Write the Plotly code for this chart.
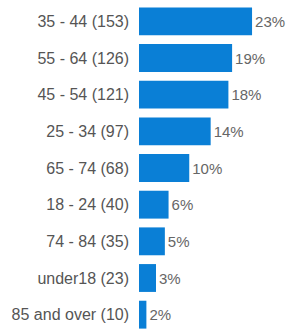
import plotly.graph_objects as go

categories = ["35 - 44 (153)", "55 - 64 (126)", "45 - 54 (121)", "25 - 34 (97)",
              "65 - 74 (68)", "18 - 24 (40)", "74 - 84 (35)", "under18 (23)",
              "85 and over (10)"]
counts = [153, 126, 121, 97, 68, 40, 35, 23, 10]
pct_labels = ["23%", "19%", "18%", "14%", "10%", "6%", "5%", "3%", "2%"]

fig = go.Figure(go.Bar(
    x=counts, y=categories, orientation="h",
    text=pct_labels, textposition="outside",
    textfont=dict(size=15, color="#666666", family="Liberation Sans, Arial"),
    marker=dict(color="#0a7fd6", line=dict(width=0)),
    cliponaxis=False, width=0.76,
))
fig.update_layout(
    width=289, height=333,
    margin=dict(l=139, r=0, t=3, b=0, autoexpand=False),
    paper_bgcolor="white", plot_bgcolor="white",
    showlegend=False,
    font=dict(family="Liberation Sans, Arial", size=16, color="#555555"),
    xaxis=dict(range=[0, 203], visible=False, automargin=False),
    yaxis=dict(autorange="reversed", showgrid=False, ticks="", showline=False,
               automargin=False,
               ticklabelstandoff=9, tickfont=dict(size=16, color="#555555")),
)
fig.write_html("out.html", config={"displayModeBar": False},
               post_script="document.body.style.margin='0';")
